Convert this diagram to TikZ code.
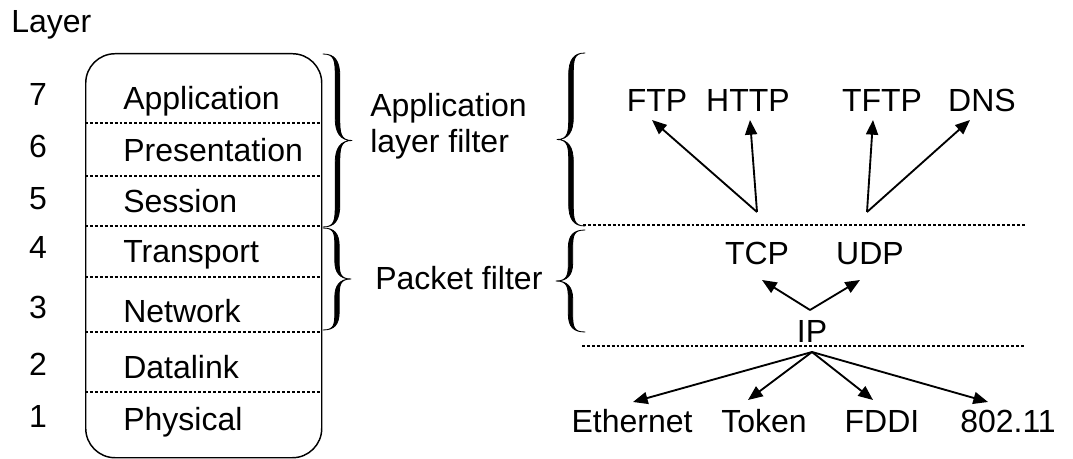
\documentclass[tikz,border=0pt]{standalone}
\usepackage{fontspec}
\setmainfont{Liberation Sans}
\usetikzlibrary{arrows.meta}
% tapered curly brace: #1 x of ends, #2 top y, #3 bottom y, #4 amplitude (signed), #5 curl size, #6 half thickness
\newcommand\tbrace[6]{%
  \fill[draw,line width=0.6pt,line join=round]
    (#1,#2) .. controls ({#1+0.4*(#4)},#2) and ({#1+0.5*(#4)+#6},{#2+0.3*#5}) .. ({#1+0.5*(#4)+#6},{#2+#5})
    -- ({#1+0.5*(#4)+#6},{(#2+#3)/2-#5})
    .. controls ({#1+0.5*(#4)+#6},{(#2+#3)/2-0.35*#5}) and ({#1+0.6*(#4)},{(#2+#3)/2}) .. ({#1+#4},{(#2+#3)/2})
    .. controls ({#1+0.6*(#4)},{(#2+#3)/2}) and ({#1+0.5*(#4)+#6},{(#2+#3)/2+0.35*#5}) .. ({#1+0.5*(#4)+#6},{(#2+#3)/2+#5})
    -- ({#1+0.5*(#4)+#6},{#3-#5})
    .. controls ({#1+0.5*(#4)+#6},{#3-0.3*#5}) and ({#1+0.4*(#4)},#3) .. (#1,#3)
    .. controls ({#1+0.4*(#4)},#3) and ({#1+0.5*(#4)-#6},{#3-0.3*#5}) .. ({#1+0.5*(#4)-#6},{#3-#5})
    -- ({#1+0.5*(#4)-#6},{(#2+#3)/2+#5})
    .. controls ({#1+0.5*(#4)-#6},{(#2+#3)/2+0.35*#5}) and ({#1+0.6*(#4)},{(#2+#3)/2}) .. ({#1+#4},{(#2+#3)/2})
    .. controls ({#1+0.6*(#4)},{(#2+#3)/2}) and ({#1+0.5*(#4)-#6},{(#2+#3)/2-0.35*#5}) .. ({#1+0.5*(#4)-#6},{(#2+#3)/2-#5})
    -- ({#1+0.5*(#4)-#6},{#2+#5})
    .. controls ({#1+0.5*(#4)-#6},{#2+0.3*#5}) and ({#1+0.4*(#4)},#2) .. (#1,#2) -- cycle;}
\begin{document}
\begin{tikzpicture}[x=0.75pt,y=-0.75pt,
  lbl/.style={font=\fontsize{24}{28}\selectfont,inner sep=0pt},
  num/.style={lbl,anchor=base},
  row/.style={lbl,anchor=base west},
  sep/.style={line width=0.8pt,dash pattern=on 2.2pt off 1.5pt},
  arr/.style={line width=1.4pt,-{Triangle[length=11pt,width=9pt]}},
  box/.style={draw,line width=1.1pt,rounded corners=22pt}]
\useasboundingbox (0,0) rectangle (1073,459);
% title
\node[lbl,anchor=base west] (layer) at (11,33) {Layer};
% stack box
\node[box,minimum width=177pt,minimum height=303pt,anchor=north west,inner sep=0pt] (stack) at (85,53) {};
\foreach \y/\n in {123/s1,176/s2,226/s3,277/s4,332/s5,392/s6}{
  \coordinate (\n l) at (85,\y); \coordinate (\n r) at (321,\y);
  \draw[sep] (\n l) -- (\n r);
}
% numbers
\node[num] (n7) at (38,106) {7};
\node[num] (n6) at (38,158) {6};
\node[num] (n5) at (38,210) {5};
\node[num] (n4) at (38,259) {4};
\node[num] (n3) at (38,318) {3};
\node[num] (n2) at (38,375) {2};
\node[num] (n1) at (38,427) {1};
% rows
\node[row] (app) at (123,110) {Application};
\node[row] (pres) at (123,162) {Presentation};
\node[row] (sess) at (123,213) {Session};
\node[row] (trans) at (123,263) {Transport};
\node[row] (net) at (123,322) {Network};
\node[row] (dl) at (123,378) {Datalink};
\node[row] (phy) at (123,430) {Physical};
% left braces
\tbrace{323}{54}{227}{29}{22}{2.3}
\tbrace{323}{228}{330}{28}{18}{2.2}
\node[row] (alf1) at (370,117) {Application};
\node[row] (alf2) at (370,153) {layer filter};
\node[row] (pf) at (375,290) {Packet filter};
% right braces
\tbrace{585}{53}{226}{-28}{22}{2.3}
\tbrace{585}{230}{332}{-29}{18}{2.2}
% dashed separators right
\coordinate (d1l) at (583,225); \coordinate (d1r) at (1025,225);
\coordinate (d2l) at (582,346); \coordinate (d2r) at (1025,346);
\draw[sep] (d1l) -- (d1r);
\draw[sep] (d2l) -- (d2r);
% protocols
\node[num] (ftp) at (657,112) {FTP};
\node[num] (http) at (748,112) {HTTP};
\node[num] (tftp) at (882,112) {TFTP};
\node[num] (dns) at (982,112) {DNS};
\node[num] (tcp) at (757,265) {TCP};
\node[num] (udp) at (870,265) {UDP};
\node[num] (ip) at (812,342) {IP};
\node[num] (eth) at (632,432) {Ethernet};
\node[num] (tok) at (764,432) {Token};
\node[num] (fddi) at (882,432) {FDDI};
\node[num] (wifi) at (1008,432) {802.11};
% arrow sources and tips
\coordinate (j1) at (757,212);
\coordinate (j2) at (867,212);
\coordinate (j3) at (810,310);
\coordinate (j4) at (812,352);
\draw[arr] (j1) -- (652,120);
\draw[arr] (j1) -- (750,120);
\draw[arr] (j2) -- (873,120);
\draw[arr] (j2) -- (970,120);
\draw[arr] (j3) -- (762,280);
\draw[arr] (j3) -- (860,280);
\draw[arr] (j4) -- (633,402);
\draw[arr] (j4) -- (748,400);
\draw[arr] (j4) -- (873,400);
\draw[arr] (j4) -- (988,402);
\end{tikzpicture}
\end{document}
